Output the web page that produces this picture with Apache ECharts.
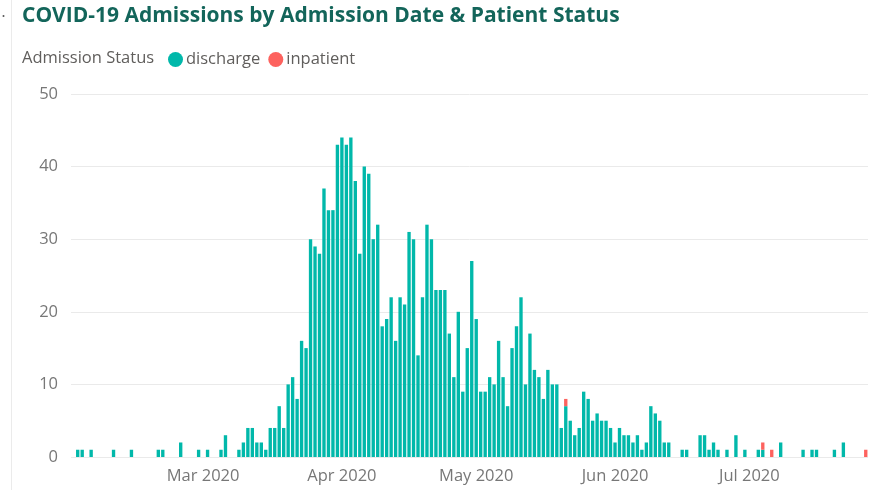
<!DOCTYPE html>
<html>
<head>
<meta charset="utf-8">
<script src="https://cdn.jsdelivr.net/npm/echarts@6/dist/echarts.min.js"></script>
<style>
  html, body { margin: 0; padding: 0; background: #fff; }
  #main { width: 870px; height: 490px; }
</style>
</head>
<body>
<div id="main"></div>
<script>
// admissions per day (only days with at least one admission)
var admitDates = [
  '2020-02-02', '2020-02-03', '2020-02-05', '2020-02-10', '2020-02-14', '2020-02-20',
  '2020-02-21', '2020-02-25', '2020-02-29', '2020-03-02', '2020-03-05', '2020-03-06',
  '2020-03-09', '2020-03-10', '2020-03-11', '2020-03-12', '2020-03-13', '2020-03-14',
  '2020-03-15', '2020-03-16', '2020-03-17', '2020-03-18', '2020-03-19', '2020-03-20',
  '2020-03-21', '2020-03-22', '2020-03-23', '2020-03-24', '2020-03-25', '2020-03-26',
  '2020-03-27', '2020-03-28', '2020-03-29', '2020-03-30', '2020-03-31',
  '2020-04-01', '2020-04-02', '2020-04-03', '2020-04-04', '2020-04-05', '2020-04-06',
  '2020-04-07', '2020-04-08', '2020-04-09', '2020-04-10', '2020-04-11', '2020-04-12',
  '2020-04-13', '2020-04-14', '2020-04-15', '2020-04-16', '2020-04-17', '2020-04-18',
  '2020-04-19', '2020-04-20', '2020-04-21', '2020-04-22', '2020-04-23', '2020-04-24',
  '2020-04-25', '2020-04-26', '2020-04-27', '2020-04-28', '2020-04-29', '2020-04-30',
  '2020-05-01', '2020-05-02', '2020-05-03', '2020-05-04', '2020-05-05', '2020-05-06',
  '2020-05-07', '2020-05-08', '2020-05-09', '2020-05-10', '2020-05-11', '2020-05-12',
  '2020-05-13', '2020-05-14', '2020-05-15', '2020-05-16', '2020-05-17', '2020-05-18',
  '2020-05-19', '2020-05-20', '2020-05-21', '2020-05-22', '2020-05-23', '2020-05-24',
  '2020-05-25', '2020-05-26', '2020-05-27', '2020-05-28', '2020-05-29', '2020-05-30',
  '2020-05-31',
  '2020-06-01', '2020-06-02', '2020-06-03', '2020-06-04', '2020-06-05', '2020-06-06',
  '2020-06-07', '2020-06-08', '2020-06-09', '2020-06-10', '2020-06-11', '2020-06-12',
  '2020-06-13', '2020-06-16', '2020-06-17', '2020-06-20', '2020-06-21', '2020-06-22',
  '2020-06-23', '2020-06-24', '2020-06-26', '2020-06-28', '2020-06-30',
  '2020-07-03', '2020-07-04', '2020-07-06', '2020-07-08', '2020-07-13', '2020-07-15',
  '2020-07-16', '2020-07-20', '2020-07-22', '2020-07-27'
];
var discharge = [
  1, 1, 1, 1, 1, 1,
  1, 2, 1, 1, 1, 3,
  1, 2, 4, 4, 2, 2,
  1, 4, 4, 7, 4, 10,
  11, 8, 16, 15, 30, 29,
  28, 37, 34, 34, 43,
  44, 43, 44, 38, 28, 40,
  39, 30, 32, 18, 19, 22,
  16, 22, 21, 31, 30, 14,
  22, 32, 30, 23, 23, 23,
  17, 11, 20, 9, 15, 27,
  19, 9, 9, 11, 10, 16,
  11, 7, 15, 18, 22, 10,
  17, 12, 11, 8, 12, 10,
  10, 4, 7, 5, 3, 4,
  9, 8, 5, 6, 5, 5,
  4,
  2, 4, 3, 3, 2, 3,
  1, 2, 7, 6, 5, 2,
  2, 1, 1, 3, 3, 1,
  2, 1, 1, 3, 1,
  1, 1, 0, 2, 1, 1,
  1, 1, 2, 0
];
var inpatient = [
  0, 0, 0, 0, 0, 0,
  0, 0, 0, 0, 0, 0,
  0, 0, 0, 0, 0, 0,
  0, 0, 0, 0, 0, 0,
  0, 0, 0, 0, 0, 0,
  0, 0, 0, 0, 0,
  0, 0, 0, 0, 0, 0,
  0, 0, 0, 0, 0, 0,
  0, 0, 0, 0, 0, 0,
  0, 0, 0, 0, 0, 0,
  0, 0, 0, 0, 0, 0,
  0, 0, 0, 0, 0, 0,
  0, 0, 0, 0, 0, 0,
  0, 0, 0, 0, 0, 0,
  0, 0, 1, 0, 0, 0,
  0, 0, 0, 0, 0, 0,
  0,
  0, 0, 0, 0, 0, 0,
  0, 0, 0, 0, 0, 0,
  0, 0, 0, 0, 0, 0,
  0, 0, 0, 0, 0,
  0, 1, 1, 0, 0, 0,
  0, 0, 0, 1
];
var firstDay = '2020-02-01';
var lastDay = '2020-07-27';
var yTicks = [0, 10, 20, 30, 40, 50];
var monthNames = ['Jan', 'Feb', 'Mar', 'Apr', 'May', 'Jun', 'Jul', 'Aug', 'Sep', 'Oct', 'Nov', 'Dec'];

// every calendar day on the axis
var days = [];
var d = new Date(firstDay + 'T00:00:00Z');
var end = new Date(lastDay + 'T00:00:00Z');
while (d <= end) {
  days.push(d.toISOString().slice(0, 10));
  d.setUTCDate(d.getUTCDate() + 1);
}

var dischargeByDay = {}, inpatientByDay = {};
admitDates.forEach(function (day, i) {
  dischargeByDay[day] = discharge[i];
  inpatientByDay[day] = inpatient[i];
});

var font = "'Segoe UI', 'Open Sans', sans-serif";
var chart = echarts.init(document.getElementById('main'));

chart.setOption({
  animation: false,
  title: [
    {
      text: 'COVID-19 Admissions by Admission Date & Patient Status',
      left: 22, top: 6, padding: 0,
      textStyle: { color: '#13655A', fontSize: 21, fontWeight: 'bold', fontFamily: font }
    },
    {
      text: 'Admission Status',
      left: 22, top: 50, padding: 0,
      textStyle: { color: '#605E5C', fontSize: 16.5, fontWeight: 'normal', fontFamily: font }
    }
  ],
  legend: {
    left: 168, top: 51, padding: 0,
    icon: 'circle',
    itemWidth: 15, itemHeight: 15, itemGap: 8,
    textStyle: { color: '#605E5C', fontSize: 16.5, fontFamily: font, padding: [0, 0, 0, -2] },
    data: ['discharge', 'inpatient']
  },
  grid: { left: 71, right: 2, top: 94, bottom: 33 },
  xAxis: {
    type: 'category',
    data: days,
    boundaryGap: true,
    axisLine: { show: false },
    axisTick: { show: false },
    axisLabel: {
      color: '#777',
      fontSize: 16.5,
      fontFamily: font,
      margin: 11,
      interval: function (idx, val) { return idx > 0 && val.slice(8) === '01'; },
      formatter: function (val) {
        return monthNames[+val.slice(5, 7) - 1] + ' ' + val.slice(0, 4);
      }
    }
  },
  yAxis: {
    type: 'value',
    min: yTicks[0], max: yTicks[yTicks.length - 1], interval: 10,
    axisLine: { show: false },
    axisTick: { show: false },
    axisLabel: { color: '#777', fontSize: 16.5, fontFamily: font, margin: 13 },
    splitLine: { lineStyle: { color: '#EAEAEA', width: 1 } }
  },
  series: [
    {
      name: 'discharge',
      type: 'bar',
      stack: 'status',
      barCategoryGap: '25%',
      itemStyle: { color: '#01B8AA' },
      data: days.map(function (day) { return dischargeByDay[day] || 0; })
    },
    {
      name: 'inpatient',
      type: 'bar',
      stack: 'status',
      barCategoryGap: '25%',
      itemStyle: { color: '#FD625E' },
      data: days.map(function (day) { return inpatientByDay[day] || 0; })
    }
  ],
  graphic: [
    { type: 'line', shape: { x1: 11.5, y1: 0, x2: 11.5, y2: 490 }, style: { stroke: '#EBEBEB', lineWidth: 1 } },
    { type: 'circle', shape: { cx: 3.5, cy: 16, r: 1 }, style: { fill: '#555' } }
  ]
});
</script>
</body>
</html>
